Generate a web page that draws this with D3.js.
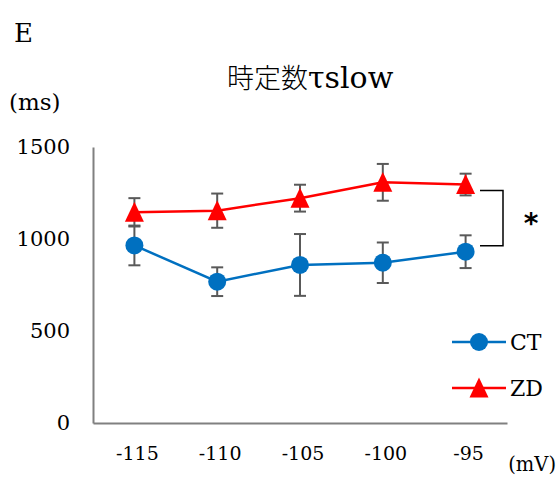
<!DOCTYPE html>
<html>
<head>
<meta charset="utf-8">
<script src="https://cdn.jsdelivr.net/npm/d3@7"></script>
<style>
  html, body { margin: 0; padding: 0; background: #fff; }
  svg { display: block; }
</style>
</head>
<body>
<svg id="chart" width="557" height="477"></svg>
<script>
// Membrane potential steps (mV)
const voltages = ["-115", "-110", "-105", "-100", "-95"];
// τslow means and error (ms)
const ctMean = [965, 768, 859, 871, 931];
const ctErr  = [108, 78, 168, 110, 89];
const zdMean = [1145, 1154, 1222, 1308, 1296];
const zdErr  = [77, 93, 73, 100, 59];
const yTicks = [0, 500, 1000, 1500];

const SERIF = "'DejaVu Serif', serif";
const CJK = "'Noto Sans CJK JP', sans-serif";

const svg = d3.select("#chart");

const x = d3.scaleBand().domain(voltages).range([93, 507]);
const y = d3.scaleLinear().domain([0, 1500]).range([423, 147]);
const cx = v => x(v) + x.bandwidth() / 2;

const axisColor = "#808080";
const errColor = "#595959";
const series = [
  { name: "CT", mean: ctMean, err: ctErr, color: "#0070C0", shape: "circle" },
  { name: "ZD", mean: zdMean, err: zdErr, color: "#FF0000", shape: "triangle" }
];

function label(px, py, size, str, anchor) {
  return svg.append("text").attr("x", px).attr("y", py)
    .attr("text-anchor", anchor || "start")
    .style("font-family", SERIF).style("font-size", size + "px").style("fill", "#000")
    .text(str);
}

// Panel letter, title, unit labels
label(14, 42, 26, "E");
const title = svg.append("text").attr("x", 227).attr("y", 88).style("fill", "#000");
title.append("tspan").style("font-family", CJK).style("font-size", "27px").style("font-weight", 300).text("時定数");
title.append("tspan").style("font-family", SERIF).style("font-size", "30px").text("τslow");
label(9, 110, 23, "(ms)");
label(556, 471, 19.5, "(mV)", "end");

// Y axis
const yAxis = d3.axisLeft(y).tickValues(yTicks).tickSize(0).tickPadding(23)
  .tickFormat(d3.format("d"));
const gy = svg.append("g").attr("transform", "translate(93,0)").call(yAxis);
gy.select(".domain").attr("stroke", axisColor).attr("stroke-width", 2);
gy.selectAll("text").style("font-family", SERIF).style("font-size", "21px").style("fill", "#000");

// X axis
const xAxis = d3.axisBottom(x).tickSize(0).tickPadding(24);
const gx = svg.append("g").attr("transform", "translate(0,423)").call(xAxis);
gx.select(".domain").attr("stroke", axisColor).attr("stroke-width", 2);
gx.selectAll("text").style("font-family", SERIF).style("font-size", "19px").style("fill", "#000")
  .attr("dx", 3);

// Error bars
series.forEach(s => {
  const g = svg.append("g").attr("stroke", errColor).attr("stroke-width", 2);
  voltages.forEach((v, i) => {
    const x0 = cx(v), top = y(s.mean[i] + s.err[i]), bot = y(s.mean[i] - s.err[i]);
    g.append("line").attr("x1", x0).attr("x2", x0).attr("y1", top).attr("y2", bot);
    g.append("line").attr("x1", x0 - 6).attr("x2", x0 + 6).attr("y1", top).attr("y2", top);
    g.append("line").attr("x1", x0 - 6).attr("x2", x0 + 6).attr("y1", bot).attr("y2", bot);
  });
});

// Lines and markers
const line = d3.line().x((d, i) => cx(voltages[i])).y(d => y(d));
const triPath = (x0, y0, s) => `M${x0},${y0 - s * 0.55}L${x0 + s / 2},${y0 + s * 0.5}L${x0 - s / 2},${y0 + s * 0.5}Z`;

function marker(g, shape, x0, y0, color) {
  if (shape === "circle") {
    g.append("circle").attr("cx", x0).attr("cy", y0).attr("r", 9).attr("fill", color);
  } else {
    g.append("path").attr("d", triPath(x0, y0, 19)).attr("fill", color);
  }
}

series.forEach(s => {
  svg.append("path").datum(s.mean).attr("d", line)
    .attr("fill", "none").attr("stroke", s.color).attr("stroke-width", 2.5);
  const g = svg.append("g");
  s.mean.forEach((m, i) => marker(g, s.shape, cx(voltages[i]), y(m), s.color));
});

// Significance bracket between the two series at the last step
const last = voltages.length - 1;
const bx0 = 480, bx1 = 503;
const bTop = y(zdMean[last]) + 6, bBot = y(ctMean[last]) - 6;
svg.append("path")
  .attr("d", `M${bx0},${bTop}H${bx1}V${bBot}H${bx0}`)
  .attr("fill", "none").attr("stroke", "#000").attr("stroke-width", 1.5);
svg.append("text").attr("x", 531).attr("y", 233).attr("text-anchor", "middle")
  .style("font-family", "'DejaVu Sans', sans-serif").style("font-size", "28px")
  .style("font-weight", "bold").style("fill", "#000").text("*");

// Legend
const legend = svg.append("g");
series.forEach((s, i) => {
  const ly = 342 + i * 46;
  legend.append("line").attr("x1", 452).attr("x2", 506).attr("y1", ly).attr("y2", ly)
    .attr("stroke", s.color).attr("stroke-width", 2.5);
  marker(legend, s.shape, 479, ly, s.color);
  label(510, ly + 8, 22, s.name);
});
</script>
</body>
</html>
